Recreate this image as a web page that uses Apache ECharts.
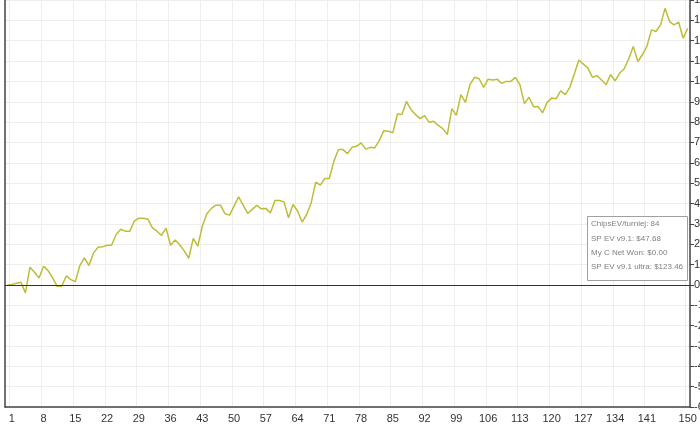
<!DOCTYPE html>
<html>
<head>
<meta charset="utf-8">
<script src="https://cdn.jsdelivr.net/npm/echarts@6/dist/echarts.min.js"></script>
<style>
    html, body { margin: 0; padding: 0; background: #fff; }
    #chart { width: 700px; height: 425px; }
</style>
</head>
<body>
<div id="chart"></div>
<script>
    // tournaments 0..150
    const tournaments = Array.from({ length: 151 }, (_, i) => String(i));

    // SP EV v9.1 ultra, cumulative $
    const spEvUltra = [
        0, 0.2, 0.8, 1.3, -3.9, 8.7, 6.2, 3.4, 9.2, 7.0,
        3.4, -0.7, -0.7, 4.4, 2.6, 1.6, 9.5, 13.3, 9.5, 15.6,
        18.5, 18.7, 19.5, 19.5, 24.8, 27.4, 26.4, 26.4, 31.3, 32.8,
        32.8, 32.3, 28.0, 26.4, 24.3, 27.9, 19.5, 22.1, 19.7, 16.7,
        13.1, 22.9, 19.0, 28.9, 35.0, 37.6, 39.2, 39.2, 35.0, 34.3,
        38.7, 43.3, 39.2, 35.1, 37.1, 39.1, 37.4, 37.6, 35.3, 41.5,
        41.5, 40.8, 33.0, 39.5, 36.3, 30.9, 34.6, 40.4, 50.5, 49.0,
        52.3, 52.3, 60.8, 66.5, 66.5, 64.5, 67.6, 68.1, 69.8, 66.7,
        67.6, 67.3, 70.9, 75.8, 75.5, 74.8, 84.0, 83.7, 90.2, 86.1,
        83.7, 81.7, 83.2, 79.9, 80.4, 78.4, 76.8, 73.9, 86.6, 83.3,
        93.5, 89.7, 98.4, 102.0, 101.3, 97.1, 101.1, 100.7, 101.1, 99.0,
        100.0, 100.0, 102.0, 98.4, 89.1, 92.2, 87.6, 87.7, 84.5, 89.7,
        91.8, 91.5, 95.4, 93.5, 97.1, 103.6, 110.5, 108.5, 106.5, 102.0,
        102.9, 100.7, 98.4, 103.3, 100.3, 104.1, 106.2, 111.1, 117.2, 109.8,
        113.1, 117.2, 125.3, 124.5, 127.8, 135.9, 129.4, 127.8, 129.1, 121.2,
        126.1
    ];

    // summary box lines
    const summaryLines = [
        'ChipsEV/turniej: 84',
        'SP EV v9.1: $47.68',
        'My C Net Won: $0.00',
        'SP EV v9.1 ultra: $123.46'
    ];

    // x labels: 1, 8, 15 ... 141 and the last one
    function showTick (idx) {
        return (idx >= 1 && idx <= 141 && (idx - 1) % 7 === 0) || idx === 150;
    }

    const chart = echarts.init(document.getElementById('chart'), null, { renderer: 'canvas' });

    const boxX = 587, boxY = 216, boxW = 100, boxH = 64;

    const option = {
        animation: false,
        backgroundColor: '#fff',
        grid: { left: 5, right: 10, top: 0, bottom: 18, containLabel: false, outerBoundsMode: 'none' },
        xAxis: {
            type: 'category',
            data: tournaments,
            boundaryGap: true,
            axisLine: { onZero: false, lineStyle: { color: '#444', width: 1.5 } },
            axisTick: { alignWithLabel: true, interval: showTick, length: 4, lineStyle: { color: '#444' } },
            axisLabel: { interval: showTick, color: '#333', fontSize: 11, fontFamily: 'Liberation Sans', margin: 6, hideOverlap: false },
            splitLine: { show: true, interval: showTick, lineStyle: { color: '#eeeeee', width: 1 } }
        },
        yAxis: [{
            type: 'value',
            position: 'right',
            min: -60,
            max: 140,
            interval: 10,
            axisLine: { show: true, lineStyle: { color: '#444', width: 1.5 } },
            axisTick: { show: true, length: 4, lineStyle: { color: '#444' } },
            axisLabel: { color: '#333', fontSize: 11, fontFamily: 'Liberation Sans', margin: 4 },
            splitLine: { lineStyle: { color: '#eeeeee', width: 1 } }
        }, {
            type: 'value',
            position: 'left',
            min: -60,
            max: 140,
            interval: 10,
            axisLine: { show: true, lineStyle: { color: '#444', width: 1.5 } },
            axisTick: { show: false },
            axisLabel: { show: false },
            splitLine: { show: false }
        }],
        series: [{
            name: 'SP EV v9.1 ultra',
            type: 'line',
            data: spEvUltra,
            symbol: 'none',
            yAxisIndex: 0,
            lineStyle: { color: '#bdbd3a', width: 1.5 },
            markLine: {
                silent: true,
                symbol: 'none',
                label: { show: false },
                lineStyle: { color: '#333', width: 1.2, type: 'solid' },
                data: [{ yAxis: 0 }]
            },
            z: 3
        }],
        graphic: [
            {
                type: 'text',
                left: 'center',
                top: -26,
                silent: true,
                style: {
                    text: 'POKERTRACKER',
                    font: 'bold 30px "Liberation Sans"',
                    fill: '#efefef'
                },
                z: 0
            },
            {
                type: 'rect',
                left: boxX,
                top: boxY,
                z: 100,
                shape: { width: boxW, height: boxH },
                style: { fill: '#fff', stroke: '#a0a0a0', lineWidth: 1 }
            }
        ].concat(summaryLines.map((txt, i) => ({
            type: 'text',
            left: boxX + 4,
            top: boxY + 4 + i * 14.4,
            z: 101,
            style: {
                text: txt,
                fill: '#808080',
                font: '8px "Liberation Sans"'
            }
        })))
    };

    chart.setOption(option);
</script>
</body>
</html>
